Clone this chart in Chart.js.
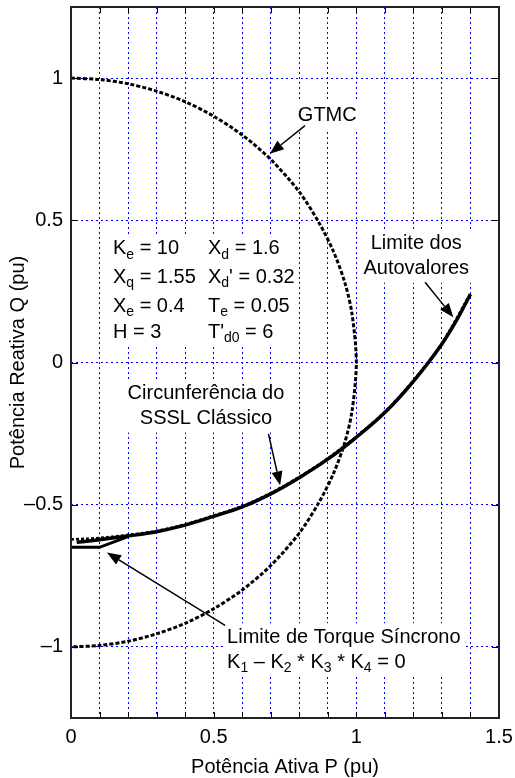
<!DOCTYPE html>
<html>
<head>
<meta charset="utf-8">
<title>Limites de estabilidade</title>
<script src="https://cdn.jsdelivr.net/npm/chart.js@4.4.1/dist/chart.umd.min.js"></script>
<style>
    html, body { margin: 0; padding: 0; background: #fff; }
    #wrap { width: 515px; height: 778px; }
</style>
</head>
<body>
<div id="wrap"><canvas id="chart" width="515" height="778"></canvas></div>
<script>
// Values (P, Q in pu)
const gtmcP = [0, 0.1, 0.2, 0.3, 0.4, 0.5, 0.6, 0.7, 0.8, 0.87, 0.92, 0.96, 0.985, 1.0, 0.985, 0.96, 0.92, 0.87, 0.8, 0.7, 0.6, 0.5, 0.4, 0.3, 0.2, 0.1, 0];
const gtmcQ = [1, 0.995, 0.98, 0.954, 0.917, 0.866, 0.8, 0.714, 0.6, 0.49, 0.39, 0.28, 0.17, 0, -0.17, -0.28, -0.39, -0.49, -0.6, -0.714, -0.8, -0.866, -0.917, -0.954, -0.98, -0.995, -1];

const eigP = [0.02, 0.1, 0.2, 0.3, 0.4, 0.5, 0.6, 0.7, 0.8, 0.9, 1.0, 1.1, 1.2, 1.3, 1.35, 1.4];
const eigQ = [-0.632, -0.623, -0.61, -0.595, -0.572, -0.541, -0.508, -0.462, -0.405, -0.340, -0.263, -0.176, -0.066, 0.065, 0.146, 0.240];

const ssslP = [0, 0.1, 0.2, 0.3, 0.4, 0.5, 0.6, 0.7, 0.8, 0.9, 1.0, 1.1, 1.2, 1.3, 1.4];
const ssslQ = [-0.622, -0.617, -0.606, -0.592, -0.569, -0.538, -0.505, -0.459, -0.402, -0.337, -0.260, -0.173, -0.063, 0.068, 0.243];

const torqueP = [0, 0.1, 0.2];
const torqueQ = [-0.65, -0.65, -0.612];

const xGrid = [0, 0.1, 0.2, 0.3, 0.4, 0.5, 0.6, 0.7, 0.8, 0.9, 1.0, 1.1, 1.2, 1.3, 1.4, 1.5];
const xTickValues = [0, 0.5, 1, 1.5];
const xTickLabels = ['0', '0.5', '1', '1.5'];
const yTickValues = [-1, -0.5, 0, 0.5, 1];
const yTickLabels = ['\u20131', '\u20130.5', '0', '0.5', '1'];

const params = [
    ['K_{e} = 10', 'X_{d} = 1.6'],
    ['X_{q} = 1.55', "X_{d}' = 0.32"],
    ['X_{e} = 0.4', 'T_{e} = 0.05'],
    ['H = 3', "T'_{d0} = 6"]
];

// annotation placement (data units)
const paramCols = [0.147, 0.48];
const paramRowsQ = [0.40, 0.30, 0.197, 0.105];

const notes = [
    { lines: ['GTMC'], p: 0.795, q: 0.868, align: 'left' },
    { lines: ['Limite dos', 'Autovalores'], p: 1.21, q: 0.418, align: 'center' },
    { lines: ['Circunfer\u00eancia do', 'SSSL Cl\u00e1ssico'], p: 0.473, q: -0.109, align: 'center' },
    { lines: ['Limite de Torque S\u00edncrono', 'K_{1} \u2013 K_{2} * K_{3} * K_{4} = 0'], p: 0.547, q: -0.966, align: 'left' }
];

const arrows = [
    { from: [0.82, 0.833], to: [0.697, 0.734] },
    { from: [1.241, 0.282], to: [1.34, 0.159] },
    { from: [0.692, -0.251], to: [0.733, -0.432] },
    { from: [0.54, -0.924], to: [0.126, -0.668] }
];

const FONT = "'Liberation Sans', Arial, sans-serif";
const LINE_GAP = 25;

function toPoints(xs, ys) {
    return xs.map((x, i) => ({ x: x, y: ys[i] }));
}

function splitSub(str) {
    const parts = [];
    const re = /_\{([^}]*)\}/g;
    let last = 0, m;
    while ((m = re.exec(str))) {
        if (m.index > last) parts.push([str.slice(last, m.index), false]);
        parts.push([m[1], true]);
        last = re.lastIndex;
    }
    if (last < str.length) parts.push([str.slice(last), false]);
    return parts;
}

function richWidth(ctx, str) {
    let w = 0;
    splitSub(str).forEach(([t, sub]) => {
        ctx.font = (sub ? 14 : 20) + 'px ' + FONT;
        w += ctx.measureText(t).width;
    });
    return w;
}

function drawRich(ctx, str, x, y) {
    ctx.textBaseline = 'middle';
    ctx.textAlign = 'left';
    ctx.fillStyle = '#000';
    splitSub(str).forEach(([t, sub]) => {
        ctx.font = (sub ? 14 : 20) + 'px ' + FONT;
        ctx.fillText(t, x, sub ? y + 6 : y);
        x += ctx.measureText(t).width;
    });
}

// lay out every text block in pixels
function layoutNotes(chart) {
    const ctx = chart.ctx;
    const xs = chart.scales.x, ys = chart.scales.y;
    const blocks = [];

    notes.forEach(n => {
        const x0 = xs.getPixelForValue(n.p);
        const y0 = ys.getPixelForValue(n.q);
        const items = n.lines.map((line, i) => {
            const w = richWidth(ctx, line);
            const lx = n.align === 'center' ? x0 - w / 2 : x0;
            return { text: line, x: lx, y: y0 + i * LINE_GAP, w: w };
        });
        blocks.push(items);
    });

    const items = [];
    params.forEach((row, r) => {
        row.forEach((txt, c) => {
            items.push({
                text: txt,
                x: xs.getPixelForValue(paramCols[c]),
                y: ys.getPixelForValue(paramRowsQ[r]),
                w: richWidth(ctx, txt)
            });
        });
    });
    blocks.push(items);
    return blocks;
}

const annotationPlugin = {
    id: 'annotations',
    beforeDatasetsDraw(chart) {
        const ctx = chart.ctx;
        ctx.save();
        ctx.fillStyle = '#fff';
        layoutNotes(chart).forEach(items => {
            const left = Math.min(...items.map(it => it.x)) - 4;
            const right = Math.max(...items.map(it => it.x + it.w)) + 4;
            const top = Math.min(...items.map(it => it.y)) - 14;
            const bottom = Math.max(...items.map(it => it.y)) + 14;
            ctx.fillRect(left, top, right - left, bottom - top);
        });
        ctx.restore();
    },
    afterDatasetsDraw(chart) {
        const ctx = chart.ctx;
        const xs = chart.scales.x, ys = chart.scales.y;
        const area = chart.chartArea;
        ctx.save();

        layoutNotes(chart).forEach(items => {
            items.forEach(it => drawRich(ctx, it.text, it.x, it.y));
        });

        // arrows
        arrows.forEach(a => {
            const x1 = xs.getPixelForValue(a.from[0]), y1 = ys.getPixelForValue(a.from[1]);
            const x2 = xs.getPixelForValue(a.to[0]), y2 = ys.getPixelForValue(a.to[1]);
            const ang = Math.atan2(y2 - y1, x2 - x1);
            const len = 14, half = 5.5;
            const bx = x2 - len * Math.cos(ang), by = y2 - len * Math.sin(ang);
            ctx.strokeStyle = '#000';
            ctx.lineWidth = 1.5;
            ctx.beginPath();
            ctx.moveTo(x1, y1);
            ctx.lineTo(bx, by);
            ctx.stroke();
            ctx.fillStyle = '#000';
            ctx.beginPath();
            ctx.moveTo(x2, y2);
            ctx.lineTo(bx + half * Math.sin(ang), by - half * Math.cos(ang));
            ctx.lineTo(bx - half * Math.sin(ang), by + half * Math.cos(ang));
            ctx.closePath();
            ctx.fill();
        });

        // inward tick marks and box
        ctx.strokeStyle = '#000';
        ctx.lineWidth = 1;
        ctx.beginPath();
        xGrid.forEach(v => {
            const x = Math.round(xs.getPixelForValue(v)) + 0.5;
            ctx.moveTo(x, area.bottom); ctx.lineTo(x, area.bottom - 6);
            ctx.moveTo(x, area.top); ctx.lineTo(x, area.top + 6);
        });
        yTickValues.forEach(v => {
            const y = Math.round(ys.getPixelForValue(v)) + 0.5;
            ctx.moveTo(area.left, y); ctx.lineTo(area.left + 7, y);
            ctx.moveTo(area.right, y); ctx.lineTo(area.right - 7, y);
        });
        ctx.stroke();

        ctx.strokeStyle = '#222';
        ctx.lineWidth = 2;
        ctx.strokeRect(area.left, area.top, area.right - area.left, area.bottom - area.top);
        ctx.restore();
    }
};

const gridOpts = {
    color: '#0000ff',
    lineWidth: 1,
    drawTicks: false
};

new Chart(document.getElementById('chart'), {
    type: 'scatter',
    data: {
        datasets: [
            {
                label: 'Limite dos Autovalores',
                data: toPoints(eigP, eigQ),
                borderColor: '#000',
                borderWidth: 3.5,
                cubicInterpolationMode: 'monotone',
                order: 0
            },
            {
                label: 'Limite de Torque Síncrono',
                data: toPoints(torqueP, torqueQ),
                borderColor: '#000',
                borderWidth: 3,
                tension: 0,
                order: 1
            },
            {
                label: 'SSSL Clássico',
                data: toPoints(ssslP, ssslQ),
                borderColor: '#000',
                borderWidth: 2.5,
                borderDash: [3, 2],
                cubicInterpolationMode: 'monotone',
                order: 2
            },
            {
                label: 'GTMC',
                data: toPoints(gtmcP, gtmcQ),
                borderColor: '#000',
                borderWidth: 3,
                borderDash: [4, 2],
                tension: 0.3,
                order: 3
            }
        ]
    },
    options: {
        responsive: false,
        animation: false,
        showLine: true,
        elements: {
            point: { radius: 0, hoverRadius: 0 }
        },
        layout: {
            padding: { left: 0, right: 16, top: 7, bottom: 0 }
        },
        plugins: {
            legend: { display: false },
            tooltip: { enabled: false }
        },
        scales: {
            x: {
                type: 'linear',
                min: 0,
                max: 1.5,
                afterBuildTicks: scale => {
                    scale.ticks = xGrid.map(v => ({ value: v }));
                },
                afterFit: scale => {
                    scale.height = 60;
                    scale.paddingLeft = 0;
                    scale.paddingRight = 0;
                },
                ticks: {
                    autoSkip: false,
                    maxRotation: 0,
                    padding: 7,
                    color: '#000',
                    font: { family: FONT, size: 20 },
                    callback: function(value) {
                        const i = xTickValues.findIndex(t => Math.abs(t - value) < 1e-6);
                        return i >= 0 ? xTickLabels[i] : '';
                    }
                },
                grid: gridOpts,
                border: { display: false, dash: [2, 3] },
                title: {
                    display: true,
                    text: 'Potência Ativa P (pu)',
                    color: '#000',
                    font: { family: FONT, size: 20, lineHeight: 1 },
                    padding: { top: 1, bottom: 1 }
                }
            },
            y: {
                type: 'linear',
                min: -1.25,
                max: 1.25,
                afterBuildTicks: scale => {
                    scale.ticks = yTickValues.map(v => ({ value: v }));
                },
                afterFit: scale => {
                    scale.width = 71;
                    scale.paddingTop = 0;
                    scale.paddingBottom = 0;
                },
                ticks: {
                    autoSkip: false,
                    padding: 8,
                    color: '#000',
                    font: { family: FONT, size: 20 },
                    callback: function(value) {
                        const i = yTickValues.findIndex(t => Math.abs(t - value) < 1e-6);
                        return i >= 0 ? yTickLabels[i] : '';
                    }
                },
                grid: gridOpts,
                border: { display: false, dash: [2, 3] },
                title: {
                    display: true,
                    text: 'Potência Reativa Q (pu)',
                    color: '#000',
                    font: { family: FONT, size: 20, lineHeight: 1 },
                    padding: { top: 8, bottom: 0 }
                }
            }
        }
    },
    plugins: [annotationPlugin]
});
</script>
</body>
</html>
